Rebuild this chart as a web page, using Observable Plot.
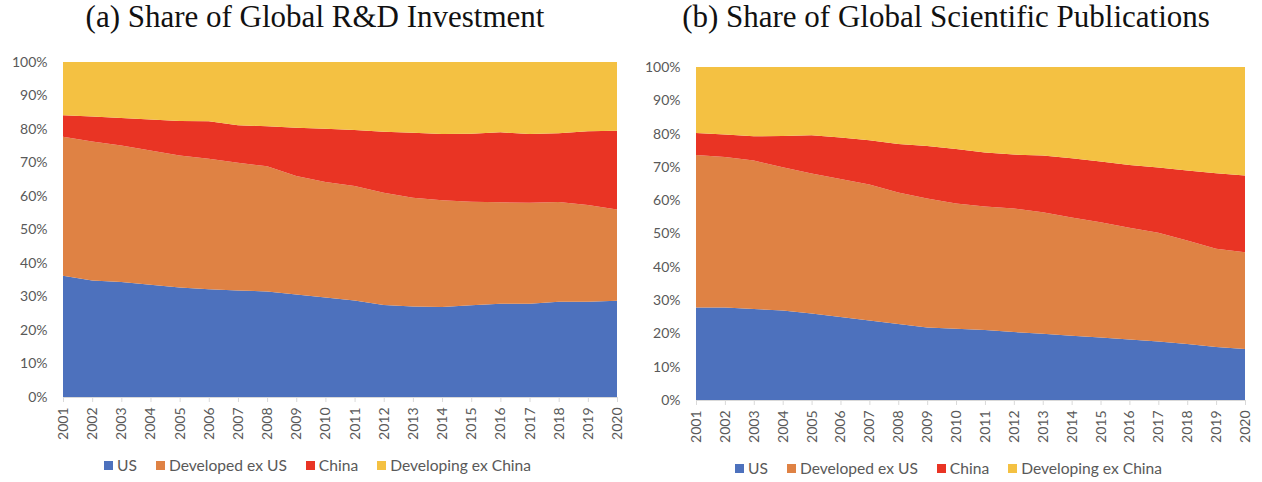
<!DOCTYPE html>
<html>
<head>
<meta charset="utf-8">
<script src="https://cdn.jsdelivr.net/npm/d3@7"></script>
<script src="https://cdn.jsdelivr.net/npm/@observablehq/plot@0.6"></script>
<style>
  html, body { margin: 0; padding: 0; background: #fff; }
  body { width: 1262px; height: 482px; position: relative; overflow: hidden; font-family: Lato, "Noto Sans", sans-serif; }
  .title { position: absolute; font-family: "Liberation Serif", "DejaVu Serif", serif; font-size: 31px; color: #111; white-space: nowrap; text-align: center; line-height: 34px; }
  .chart { position: absolute; }
  .legend { position: absolute; display: flex; align-items: center; font-size: 15.6px; color: #595959; white-space: nowrap; }
  .legend .item { display: flex; align-items: center; margin-right: 19px; }
  .legend .sw { width: 9px; height: 9px; margin-right: 4px; display: inline-block; }
</style>
</head>
<body>
<div id="titleA" class="title" style="left:0; width:630px; top:0px;">(a) Share of Global R&amp;D Investment</div>
<div id="titleB" class="title" style="left:630px; width:632px; top:0px;">(b) Share of Global Scientific Publications</div>
<div id="chartA" class="chart" style="left:0; top:40px;"></div>
<div id="chartB" class="chart" style="left:630px; top:40px;"></div>
<div id="legendA" class="legend" style="left:104px; top:456px;"></div>
<div id="legendB" class="legend" style="left:735px; top:459px;"></div>
<script>
const years = [2001,2002,2003,2004,2005,2006,2007,2008,2009,2010,2011,2012,2013,2014,2015,2016,2017,2018,2019,2020];
const seriesNames = ["US", "Developed ex US", "China", "Developing ex China"];
const seriesColors = ["#4d71bd", "#df8244", "#e93424", "#f4c142"];
const yTicks = [0,10,20,30,40,50,60,70,80,90,100];

// (a) Share of Global R&D Investment (%)
const rdUS         = [36.2,34.8,34.3,33.5,32.7,32.2,31.8,31.5,30.6,29.7,28.8,27.5,27.0,26.9,27.4,27.8,27.8,28.4,28.4,28.7];
const rdDeveloped  = [41.5,41.5,40.8,40.1,39.4,38.9,38.1,37.4,35.4,34.5,34.2,33.5,32.5,31.8,30.9,30.3,30.2,29.8,28.9,27.3];
const rdChina      = [6.4,7.4,8.2,9.2,10.3,11.2,11.2,11.9,14.4,15.9,16.7,18.2,19.4,19.8,20.3,20.9,20.5,20.5,22.0,23.5];
const rdDeveloping = [15.9,16.3,16.7,17.2,17.6,17.7,18.9,19.2,19.6,19.9,20.3,20.8,21.1,21.5,21.4,21.0,21.5,21.3,20.7,20.5];

// (b) Share of Global Scientific Publications (%)
const pubUS         = [27.8,27.8,27.3,26.9,26.0,24.9,23.9,22.8,21.8,21.4,21.0,20.4,19.9,19.3,18.8,18.2,17.6,16.8,15.9,15.3];
const pubDeveloped  = [45.8,45.2,44.6,43.0,42.0,41.5,40.8,39.5,38.7,37.6,37.1,37.1,36.5,35.5,34.6,33.5,32.6,31.1,29.5,29.1];
const pubChina      = [6.6,6.7,7.3,9.4,11.5,12.4,13.3,14.6,15.8,16.4,16.2,16.2,17.0,17.8,18.2,18.9,19.6,21.0,22.7,23.0];
const pubDeveloping = [19.8,20.3,20.8,20.7,20.5,21.2,22.0,23.1,23.7,24.6,25.7,26.3,26.6,27.4,28.4,29.4,30.2,31.1,31.9,32.6];

function toLong(arrays) {
  const rows = [];
  arrays.forEach((arr, si) => {
    arr.forEach((v, i) => rows.push({year: years[i], series: seriesNames[si], value: v}));
  });
  return rows;
}

function makeChart(data, opts) {
  return Plot.plot({
    width: opts.width,
    height: 410,
    marginTop: opts.marginTop,
    marginBottom: opts.marginBottom,
    marginLeft: opts.marginLeft,
    marginRight: opts.marginRight,
    style: {fontFamily: "Lato, 'Noto Sans', sans-serif", fontSize: "14px", color: "#595959", background: "#fff"},
    x: {domain: [2001, 2020], label: null},
    y: {domain: [0, 100], label: null},
    color: {domain: seriesNames, range: seriesColors},
    marks: [
      Plot.areaY(data, {x: "year", y: "value", fill: "series", z: "series", curve: "linear"}),
      Plot.axisY({ticks: yTicks, tickFormat: d => d + "%", tickSize: 0, tickPadding: 16, fontSize: 14, label: null}),
      Plot.ruleY([0], {stroke: "#d9d9d9"}),
      Plot.axisX({ticks: years, tickFormat: d => String(d), tickRotate: -90, tickSize: 5, tickPadding: 5, stroke: "#d9d9d9", fill: "#595959", fontSize: 14, label: null})
    ]
  });
}

document.getElementById("chartA").appendChild(makeChart(
  toLong([rdUS, rdDeveloped, rdChina, rdDeveloping]),
  {width: 630, marginTop: 22, marginBottom: 53, marginLeft: 63, marginRight: 13}
));
document.getElementById("chartB").appendChild(makeChart(
  toLong([pubUS, pubDeveloped, pubChina, pubDeveloping]),
  {width: 632, marginTop: 27, marginBottom: 50, marginLeft: 66, marginRight: 17}
));

function makeLegend(el) {
  seriesNames.forEach((name, i) => {
    const item = document.createElement("div");
    item.className = "item";
    const sw = document.createElement("span");
    sw.className = "sw";
    sw.style.background = seriesColors[i];
    item.appendChild(sw);
    item.appendChild(document.createTextNode(name));
    el.appendChild(item);
  });
}
makeLegend(document.getElementById("legendA"));
makeLegend(document.getElementById("legendB"));
</script>
</body>
</html>
